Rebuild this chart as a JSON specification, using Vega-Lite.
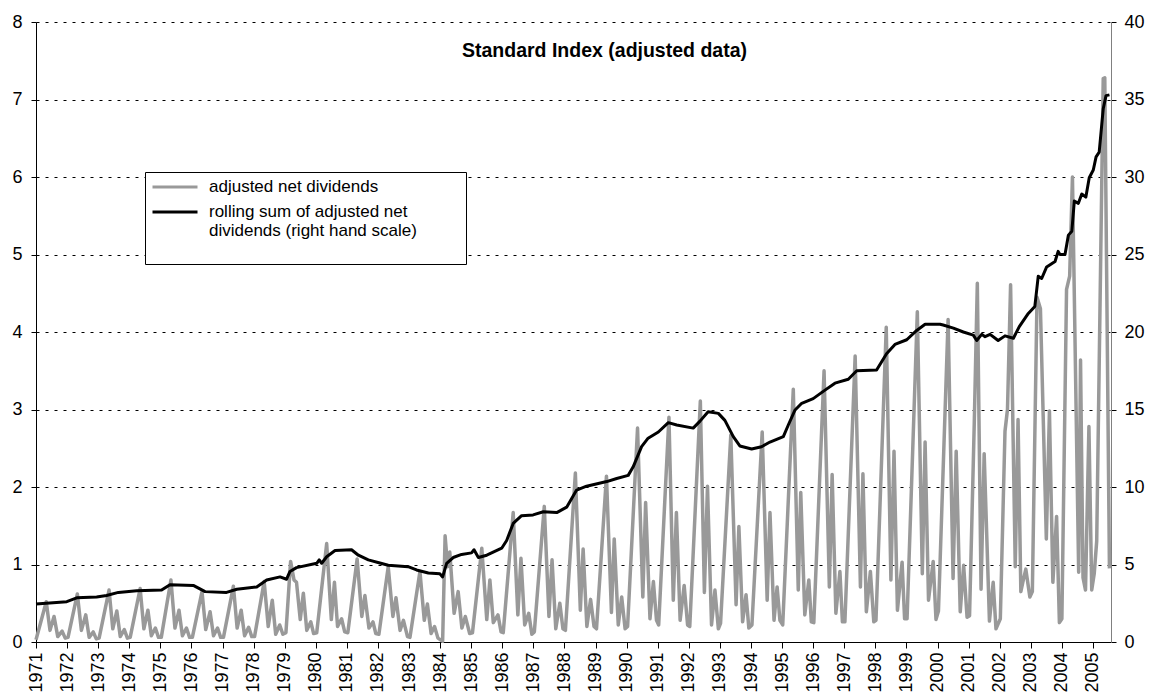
{
  "$schema": "https://vega.github.io/schema/vega-lite/v6.json",
  "width": 1075,
  "height": 620,
  "autosize": "none",
  "padding": {"left": 36, "top": 22, "right": 42, "bottom": 55},
  "background": "white",
  "config": {
    "view": {"stroke": null},
    "font": "Liberation Sans",
    "axis": {"labelFont": "Liberation Sans", "labelFontSize": 18, "labelColor": "black", "tickColor": "black", "domainColor": "black", "title": null},
    "axisX": {"labelOverlap": false, "labelFlush": false, "labelAngle": 270, "labelAlign": "right", "labelBaseline": "middle", "tickSize": 6, "labelPadding": 4, "grid": false}
  },
  "title": {"text": "Standard Index (adjusted data)", "font": "Liberation Sans", "fontSize": 19.5, "fontWeight": "bold", "color": "black", "anchor": "middle", "frame": "group", "offset": -48, "dx": 31},
  "datasets": {
    "grey": [
      {"t":1971.0,"v":0.03},{"t":1971.33,"v":0.52},{"t":1971.45,"v":0.15},{"t":1971.58,"v":0.33},{"t":1971.7,"v":0.07},{"t":1971.84,"v":0.14},{"t":1971.94,"v":0.05},
      {"t":1972.03,"v":0.06},{"t":1972.33,"v":0.62},{"t":1972.46,"v":0.15},{"t":1972.6,"v":0.35},{"t":1972.71,"v":0.06},{"t":1972.84,"v":0.13},{"t":1972.94,"v":0.04},
      {"t":1973.03,"v":0.05},{"t":1973.35,"v":0.67},{"t":1973.47,"v":0.17},{"t":1973.6,"v":0.4},{"t":1973.71,"v":0.07},{"t":1973.84,"v":0.16},{"t":1973.94,"v":0.05},
      {"t":1974.03,"v":0.06},{"t":1974.35,"v":0.69},{"t":1974.47,"v":0.17},{"t":1974.6,"v":0.41},{"t":1974.71,"v":0.08},{"t":1974.84,"v":0.18},{"t":1974.94,"v":0.06},
      {"t":1975.03,"v":0.06},{"t":1975.34,"v":0.8},{"t":1975.47,"v":0.18},{"t":1975.6,"v":0.41},{"t":1975.71,"v":0.08},{"t":1975.84,"v":0.18},{"t":1975.94,"v":0.06},
      {"t":1976.03,"v":0.06},{"t":1976.34,"v":0.65},{"t":1976.46,"v":0.16},{"t":1976.6,"v":0.39},{"t":1976.71,"v":0.08},{"t":1976.84,"v":0.18},{"t":1976.94,"v":0.06},
      {"t":1977.03,"v":0.06},{"t":1977.35,"v":0.72},{"t":1977.47,"v":0.18},{"t":1977.6,"v":0.41},{"t":1977.71,"v":0.08},{"t":1977.84,"v":0.19},{"t":1977.94,"v":0.07},
      {"t":1978.03,"v":0.07},{"t":1978.34,"v":0.78},{"t":1978.47,"v":0.2},{"t":1978.6,"v":0.54},{"t":1978.71,"v":0.1},{"t":1978.84,"v":0.22},{"t":1978.94,"v":0.1},
      {"t":1979.04,"v":0.12},{"t":1979.19,"v":1.04},{"t":1979.3,"v":0.8},{"t":1979.38,"v":0.77},{"t":1979.5,"v":0.29},{"t":1979.6,"v":0.63},{"t":1979.71,"v":0.15},{"t":1979.84,"v":0.26},{"t":1979.93,"v":0.11},
      {"t":1980.03,"v":0.12},{"t":1980.35,"v":1.27},{"t":1980.5,"v":0.29},{"t":1980.6,"v":0.77},{"t":1980.7,"v":0.2},{"t":1980.83,"v":0.3},{"t":1980.93,"v":0.13},
      {"t":1981.03,"v":0.12},{"t":1981.33,"v":1.07},{"t":1981.48,"v":0.33},{"t":1981.58,"v":0.6},{"t":1981.71,"v":0.18},{"t":1981.84,"v":0.26},{"t":1981.93,"v":0.11},
      {"t":1982.03,"v":0.1},{"t":1982.33,"v":0.97},{"t":1982.48,"v":0.33},{"t":1982.58,"v":0.57},{"t":1982.71,"v":0.15},{"t":1982.82,"v":0.28},{"t":1982.95,"v":0.07},
      {"t":1983.03,"v":0.06},{"t":1983.35,"v":0.91},{"t":1983.49,"v":0.28},{"t":1983.59,"v":0.49},{"t":1983.71,"v":0.11},{"t":1983.82,"v":0.2},{"t":1983.93,"v":0.05},
      {"t":1984.08,"v":0.01},{"t":1984.16,"v":1.37},{"t":1984.24,"v":0.97},{"t":1984.31,"v":1.16},{"t":1984.45,"v":0.37},{"t":1984.58,"v":0.65},{"t":1984.7,"v":0.18},{"t":1984.81,"v":0.33},{"t":1984.95,"v":0.11},
      {"t":1985.04,"v":0.12},{"t":1985.34,"v":1.21},{"t":1985.5,"v":0.29},{"t":1985.6,"v":0.8},{"t":1985.71,"v":0.25},{"t":1985.86,"v":0.35},{"t":1985.96,"v":0.13},
      {"t":1986.03,"v":0.12},{"t":1986.35,"v":1.67},{"t":1986.5,"v":0.35},{"t":1986.6,"v":1.08},{"t":1986.72,"v":0.22},{"t":1986.85,"v":0.37},{"t":1986.95,"v":0.1},
      {"t":1987.03,"v":0.13},{"t":1987.35,"v":1.75},{"t":1987.5,"v":0.33},{"t":1987.6,"v":1.06},{"t":1987.72,"v":0.17},{"t":1987.85,"v":0.5},{"t":1987.95,"v":0.17},
      {"t":1988.03,"v":0.15},{"t":1988.35,"v":2.18},{"t":1988.51,"v":0.41},{"t":1988.6,"v":1.2},{"t":1988.72,"v":0.2},{"t":1988.84,"v":0.55},{"t":1988.95,"v":0.2},
      {"t":1989.03,"v":0.17},{"t":1989.35,"v":2.14},{"t":1989.51,"v":0.38},{"t":1989.6,"v":1.33},{"t":1989.73,"v":0.22},{"t":1989.84,"v":0.58},{"t":1989.95,"v":0.17},
      {"t":1990.03,"v":0.2},{"t":1990.35,"v":2.76},{"t":1990.52,"v":0.58},{"t":1990.61,"v":1.8},{"t":1990.75,"v":0.3},{"t":1990.86,"v":0.78},{"t":1990.96,"v":0.28},
      {"t":1991.03,"v":0.22},{"t":1991.36,"v":2.9},{"t":1991.5,"v":0.54},{"t":1991.6,"v":1.67},{"t":1991.72,"v":0.28},{"t":1991.85,"v":0.73},{"t":1991.96,"v":0.22},
      {"t":1992.03,"v":0.2},{"t":1992.37,"v":3.11},{"t":1992.5,"v":0.64},{"t":1992.6,"v":2.01},{"t":1992.73,"v":0.22},{"t":1992.84,"v":0.67},{"t":1992.95,"v":0.17},
      {"t":1993.02,"v":0.24},{"t":1993.35,"v":2.67},{"t":1993.52,"v":0.48},{"t":1993.61,"v":1.49},{"t":1993.73,"v":0.26},{"t":1993.84,"v":0.61},{"t":1993.93,"v":0.18},
      {"t":1994.03,"v":0.22},{"t":1994.36,"v":2.71},{"t":1994.52,"v":0.54},{"t":1994.61,"v":1.67},{"t":1994.74,"v":0.28},{"t":1994.84,"v":0.71},{"t":1994.93,"v":0.28},
      {"t":1995.02,"v":0.22},{"t":1995.36,"v":3.26},{"t":1995.52,"v":0.67},{"t":1995.6,"v":1.93},{"t":1995.73,"v":0.35},{"t":1995.86,"v":0.8},{"t":1995.94,"v":0.26},
      {"t":1996.02,"v":0.25},{"t":1996.35,"v":3.5},{"t":1996.52,"v":0.71},{"t":1996.61,"v":2.16},{"t":1996.73,"v":0.37},{"t":1996.86,"v":0.91},{"t":1996.94,"v":0.26},
      {"t":1997.02,"v":0.26},{"t":1997.35,"v":3.69},{"t":1997.52,"v":0.71},{"t":1997.6,"v":2.17},{"t":1997.71,"v":0.39},{"t":1997.84,"v":0.91},{"t":1997.95,"v":0.26},
      {"t":1998.02,"v":0.28},{"t":1998.35,"v":4.06},{"t":1998.5,"v":0.8},{"t":1998.6,"v":2.46},{"t":1998.71,"v":0.41},{"t":1998.86,"v":1.03},{"t":1998.94,"v":0.3},
      {"t":1999.02,"v":0.3},{"t":1999.35,"v":4.26},{"t":1999.51,"v":0.88},{"t":1999.6,"v":2.58},{"t":1999.71,"v":0.54},{"t":1999.86,"v":1.04},{"t":1999.95,"v":0.29},
      {"t":2000.03,"v":0.4},{"t":2000.34,"v":4.16},{"t":2000.5,"v":0.82},{"t":2000.6,"v":2.46},{"t":2000.73,"v":0.39},{"t":2000.84,"v":0.99},{"t":2000.95,"v":0.32},
      {"t":2001.03,"v":0.34},{"t":2001.18,"v":2.8},{"t":2001.28,"v":4.63},{"t":2001.4,"v":0.68},{"t":2001.5,"v":2.43},{"t":2001.67,"v":0.27},{"t":2001.79,"v":0.77},{"t":2001.88,"v":0.17},
      {"t":2002.02,"v":0.3},{"t":2002.17,"v":2.72},{"t":2002.25,"v":3.0},{"t":2002.35,"v":4.61},{"t":2002.5,"v":0.97},{"t":2002.59,"v":2.87},{"t":2002.68,"v":0.65},{"t":2002.76,"v":0.8},{"t":2002.84,"v":0.94},{"t":2002.97,"v":0.58},
      {"t":2003.05,"v":0.65},{"t":2003.2,"v":4.45},{"t":2003.31,"v":4.3},{"t":2003.5,"v":1.33},{"t":2003.6,"v":2.98},{"t":2003.71,"v":0.77},{"t":2003.83,"v":1.62},{"t":2003.92,"v":0.25},
      {"t":2004.0,"v":0.3},{"t":2004.15,"v":4.55},{"t":2004.25,"v":4.72},{"t":2004.34,"v":6.0},{"t":2004.54,"v":0.9},{"t":2004.6,"v":3.64},{"t":2004.68,"v":0.83},{"t":2004.76,"v":0.67},{"t":2004.87,"v":2.78},{"t":2004.96,"v":0.67},
      {"t":2005.04,"v":0.88},{"t":2005.12,"v":1.3},{"t":2005.33,"v":7.27},{"t":2005.38,"v":7.28},{"t":2005.53,"v":0.95}
    ],
    "roll": [
      {"t":1971.0,"s":2.45},{"t":1971.99,"s":2.6},{"t":1972.31,"s":2.85},{"t":1972.95,"s":2.9},{"t":1973.27,"s":3.0},{"t":1973.65,"s":3.2},{"t":1974.24,"s":3.3},{"t":1975.04,"s":3.35},{"t":1975.31,"s":3.7},{"t":1976.06,"s":3.65},{"t":1976.44,"s":3.25},{"t":1977.13,"s":3.2},{"t":1977.46,"s":3.4},{"t":1978.1,"s":3.55},{"t":1978.42,"s":4.0},{"t":1978.85,"s":4.2},{"t":1979.06,"s":4.05},{"t":1979.17,"s":4.55},{"t":1979.38,"s":4.8},{"t":1980.03,"s":5.08},{"t":1980.11,"s":5.3},{"t":1980.19,"s":5.08},{"t":1980.35,"s":5.5},{"t":1980.62,"s":5.9},{"t":1981.15,"s":5.95},{"t":1981.37,"s":5.6},{"t":1981.69,"s":5.3},{"t":1982.06,"s":5.1},{"t":1982.33,"s":4.95},{"t":1982.97,"s":4.86},{"t":1983.24,"s":4.65},{"t":1983.62,"s":4.45},{"t":1983.99,"s":4.4},{"t":1984.08,"s":4.2},{"t":1984.21,"s":5.07},{"t":1984.42,"s":5.45},{"t":1984.69,"s":5.65},{"t":1985.01,"s":5.75},{"t":1985.09,"s":5.95},{"t":1985.23,"s":5.45},{"t":1985.5,"s":5.6},{"t":1985.98,"s":6.05},
      {"t":1986.14,"s":6.55},{"t":1986.35,"s":7.65},{"t":1986.62,"s":8.15},{"t":1986.99,"s":8.2},{"t":1987.32,"s":8.4},{"t":1987.75,"s":8.35},{"t":1988.07,"s":8.7},{"t":1988.39,"s":9.8},{"t":1988.71,"s":10.05},{"t":1989.36,"s":10.35},{"t":1989.68,"s":10.55},{"t":1990.05,"s":10.75},{"t":1990.21,"s":11.3},{"t":1990.48,"s":12.6},{"t":1990.69,"s":13.15},{"t":1991.02,"s":13.55},{"t":1991.34,"s":14.15},{"t":1991.61,"s":14.0},{"t":1992.14,"s":13.8},{"t":1992.36,"s":14.25},{"t":1992.62,"s":14.85},{"t":1992.95,"s":14.75},
      {"t":1993.16,"s":14.3},{"t":1993.43,"s":13.25},{"t":1993.64,"s":12.65},{"t":1994.02,"s":12.45},{"t":1994.34,"s":12.6},{"t":1994.61,"s":12.9},{"t":1995.04,"s":13.25},{"t":1995.2,"s":14.0},{"t":1995.41,"s":14.95},{"t":1995.63,"s":15.4},{"t":1996.0,"s":15.7},{"t":1996.38,"s":16.25},{"t":1996.7,"s":16.7},{"t":1997.13,"s":16.95},{"t":1997.4,"s":17.5},{"t":1998.04,"s":17.55},{"t":1998.36,"s":18.6},{"t":1998.63,"s":19.2},{"t":1999.01,"s":19.5},{"t":1999.33,"s":20.1},{"t":1999.6,"s":20.5},{"t":2000.08,"s":20.5},
      {"t":2000.18,"s":20.45},{"t":2000.51,"s":20.25},{"t":2000.83,"s":20.0},{"t":2001.15,"s":19.8},{"t":2001.26,"s":19.45},{"t":2001.42,"s":19.85},{"t":2001.53,"s":19.7},{"t":2001.69,"s":19.85},{"t":2001.95,"s":19.45},{"t":2002.17,"s":19.75},{"t":2002.44,"s":19.6},{"t":2002.63,"s":20.35},{"t":2002.92,"s":21.2},{"t":2003.13,"s":21.65},{"t":2003.24,"s":23.6},{"t":2003.35,"s":23.45},{"t":2003.51,"s":24.2},{"t":2003.78,"s":24.55},{"t":2003.88,"s":25.2},{"t":2003.94,"s":25.0},{"t":2004.1,"s":25.0},{"t":2004.21,"s":26.25},{"t":2004.32,"s":26.5},{"t":2004.4,"s":28.45},{"t":2004.53,"s":28.3},{"t":2004.64,"s":28.9},{"t":2004.77,"s":28.7},{"t":2004.88,"s":29.95},{"t":2005.01,"s":30.45},{"t":2005.1,"s":31.3},{"t":2005.2,"s":31.6},{"t":2005.33,"s":34.4},{"t":2005.42,"s":35.25},{"t":2005.53,"s":35.3}
    ]
  },
  "layer": [
    {
      "data": {"name": "grey"},
      "mark": {"type": "line", "strokeWidth": 3.5, "strokeJoin": "round"},
      "encoding": {
        "x": {"field": "t", "type": "quantitative", "scale": {"domain": [1971, 2005.58], "nice": false, "zero": false},
              "axis": {"values": [1971,1972,1973,1974,1975,1976,1977,1978,1979,1980,1981,1982,1983,1984,1985,1986,1987,1988,1989,1990,1991,1992,1993,1994,1995,1996,1997,1998,1999,2000,2001,2002,2003,2004,2005],
                       "format": "d", "labelOverlap": false, "labelAngle": 270, "labelAlign": "right", "labelBaseline": "middle", "labelSeparation": 0}},
        "y": {"field": "v", "type": "quantitative", "scale": {"domain": [0, 8], "nice": false},
              "axis": {"orient": "left", "values": [0,1,2,3,4,5,6,7,8], "format": "d", "grid": true, "gridDash": [3, 6], "gridColor": "black", "gridWidth": 1, "gridOpacity": 1, "tickSize": 5, "labelPadding": 9}},
        "color": {"datum": "adjusted net dividends", "type": "nominal",
                  "scale": {"domain": ["adjusted net dividends", "rolling sum"], "range": ["#999999", "#000000"]},
                  "legend": {"orient": "none", "legendX": 109, "legendY": 150, "title": null, "symbolType": "M-1,0H5", "symbolSize": 225, "symbolStrokeWidth": 3,
                             "labelFont": "Liberation Sans", "labelFontSize": 17, "labelColor": "black", "labelLimit": 500, "labelOffset": 40,
                             "strokeColor": "black", "fillColor": "white", "padding": 6, "rowPadding": 8,
                             "labelExpr": "datum.label == 'rolling sum' ? ['rolling sum of adjusted net', 'dividends (right hand scale)\u00a0\u00a0\u00a0\u00a0\u00a0\u00a0\u00a0\u00a0\u00a0\u200b', '\u00a0\u200b'] : datum.label"}}
      }
    },
    {
      "data": {"name": "roll"},
      "mark": {"type": "line", "strokeWidth": 3, "strokeJoin": "round"},
      "encoding": {
        "x": {"field": "t", "type": "quantitative",
              "axis": {"values": [1971,1972,1973,1974,1975,1976,1977,1978,1979,1980,1981,1982,1983,1984,1985,1986,1987,1988,1989,1990,1991,1992,1993,1994,1995,1996,1997,1998,1999,2000,2001,2002,2003,2004,2005],
                       "format": "d", "labelOverlap": false, "labelAngle": 270, "labelAlign": "right", "labelBaseline": "middle", "labelSeparation": 0}},
        "y": {"field": "s", "type": "quantitative", "scale": {"domain": [0, 40], "nice": false},
              "axis": {"orient": "right", "values": [0,5,10,15,20,25,30,35,40], "grid": false, "domainColor": "#808080", "tickSize": 5, "labelPadding": 8}},
        "color": {"datum": "rolling sum", "type": "nominal"}
      }
    }
  ],
  "resolve": {"scale": {"y": "independent"}}
}
